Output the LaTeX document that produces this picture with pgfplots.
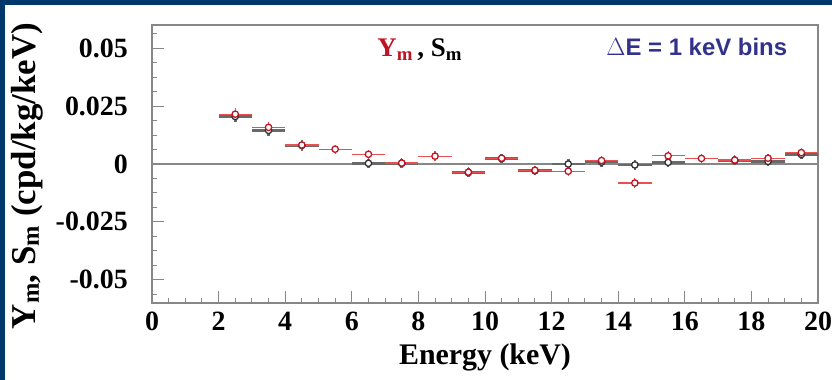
\documentclass[border=0pt]{standalone}
\usepackage{pgfplots}
\pgfplotsset{compat=1.18}
\usepackage{fontspec}
\setmainfont{Liberation Serif}
\newfontfamily\sansb{Liberation Sans}
\definecolor{navy}{RGB}{0,56,108}
\definecolor{ymred}{RGB}{235,80,80}
\definecolor{ymtext}{RGB}{190,20,35}
\definecolor{smgray}{RGB}{50,50,50}
\definecolor{smbar}{RGB}{105,105,105}
\definecolor{framec}{RGB}{135,135,135}
\definecolor{dEblue}{RGB}{50,50,140}
\pgfplotstableread{
x y ex ey
2.5 0.0205 0.5 0.0025
3.5 0.0145 0.5 0.0025
4.5 0.0080 0.5 0.0022
6.5 0.0003 0.5 0.0020
7.5 0.0003 0.5 0.0020
9.5 -0.0037 0.5 0.0020
10.5 0.0023 0.5 0.0020
11.5 -0.0029 0.5 0.0020
12.5 0.0000 0.5 0.0020
13.5 0.0008 0.5 0.0020
14.5 -0.0004 0.5 0.0020
15.5 0.0007 0.5 0.0020
17.5 0.0015 0.5 0.0020
18.5 0.0011 0.5 0.0020
19.5 0.0041 0.5 0.0020
}\smdata
\pgfplotstableread{
x y ex ey
2.5 0.0215 0.5 0.0026
3.5 0.0158 0.5 0.0025
4.5 0.0082 0.5 0.0022
5.5 0.0064 0.5 0.0020
6.5 0.0042 0.5 0.0020
7.5 0.0004 0.5 0.0020
8.5 0.0034 0.5 0.0020
9.5 -0.0035 0.5 0.0020
10.5 0.0025 0.5 0.0020
11.5 -0.0027 0.5 0.0020
12.5 -0.0031 0.5 0.0020
13.5 0.0015 0.5 0.0020
14.5 -0.0082 0.5 0.0020
15.5 0.0035 0.5 0.0020
16.5 0.0024 0.5 0.0020
17.5 0.0017 0.5 0.0020
18.5 0.0025 0.5 0.0020
19.5 0.0049 0.5 0.0020
}\ymdata
\begin{document}
\begin{tikzpicture}
\useasboundingbox (0,0) rectangle (832bp,380bp);
\fill[navy] (0,0) rectangle (832bp,380bp);
\fill[white] (5bp,0) rectangle (832bp,375bp);
\begin{axis}[
  at={(152bp,77bp)}, anchor=south west,
  scale only axis, width=666bp, height=278bp,
  xmin=0, xmax=20, ymin=-0.06, ymax=0.06,
  scaled y ticks=false, scaled x ticks=false,
  axis line style={framec, line width=1.3bp},
  every tick/.style={framec, line width=1bp},
  xtick pos=bottom, ytick pos=left, tick align=inside,
  major tick length=12bp, minor tick length=5bp,
  xtick={0,2,4,6,8,10,12,14,16,18,20},
  xticklabels={0,2,4,6,8,10,12,14,16,18,20},
  minor x tick num=3,
  ytick={-0.05,-0.025,0,0.025,0.05},
  yticklabels={-0.05,-0.025,0,0.025,0.05},
  minor ytick={-0.05625,-0.04375,-0.0375,-0.03125,-0.01875,-0.0125,-0.00625,0.00625,0.0125,0.01875,0.03125,0.0375,0.04375,0.05625},
  xticklabel style={font=\fontsize{28}{30}\selectfont\bfseries, inner sep=0pt, anchor=north, yshift=-9bp},
  yticklabel style={font=\fontsize{28}{30}\selectfont\bfseries, inner sep=0pt, anchor=east, xshift=-24bp},
  xlabel={Energy (keV)},
  xlabel style={font=\fontsize{30}{32}\selectfont\bfseries, at={(rel axis cs:0.5,-0.194)}, anchor=center},
  ylabel={Y\textsubscript{m}, S\textsubscript{m} (cpd/kg/keV)},
  ylabel style={font=\fontsize{35}{36}\selectfont\bfseries, at={(rel axis cs:-0.1877,0.457)}, anchor=center},
  clip=false,
]
\addplot[framec, line width=1.3bp, forget plot] coordinates {(0,0) (20,0)};
% S_m (black): error bars
\addplot[smbar, only marks, mark=none,
  error bars/.cd, x dir=both, x explicit, y dir=both, y explicit,
  error mark=none, error bar style={line width=2.6bp, smbar}]
  table[x=x, y=y, x error=ex, y error=ey] {\smdata};
% Y_m (red): error bars
\addplot[ymred, only marks, mark=none,
  error bars/.cd, x dir=both, x explicit, y dir=both, y explicit,
  error mark=none, error bar style={line width=1.2bp, ymred}]
  table[x=x, y=y, x error=ex, y error=ey] {\ymdata};
% markers (open circles with white interior)
\addplot[smgray, only marks, mark=*, mark size=3.2bp,
  mark options={fill=white, line width=1.3bp, draw=smgray}]
  table[x=x, y=y] {\smdata};
\addplot[ymtext, only marks, mark=*, mark size=3.2bp,
  mark options={fill=white, line width=1.3bp, draw=ymtext}]
  table[x=x, y=y] {\ymdata};
\node[anchor=base, font=\fontsize{27}{30}\selectfont\bfseries] at (rel axis cs:0.402,0.885)
  {{\color{ymtext}Y\textsubscript{m}}\,, S\textsubscript{m}};
\node[anchor=base, font=\sansb\fontsize{24}{26}\selectfont\bfseries, text=dEblue] at (rel axis cs:0.818,0.892)
  {$\Delta$E = 1 keV bins};
\end{axis}
\end{tikzpicture}
\end{document}
